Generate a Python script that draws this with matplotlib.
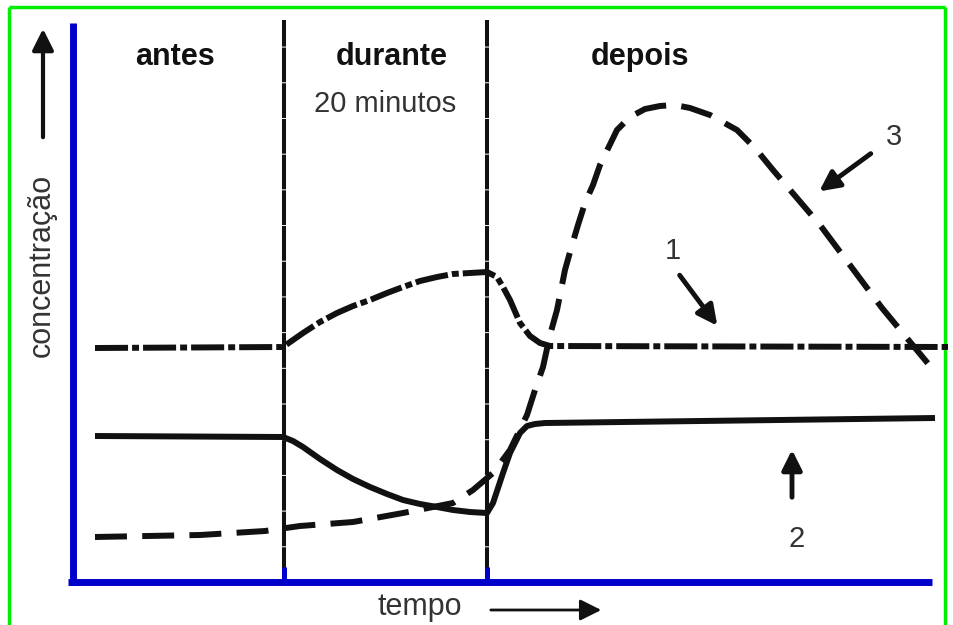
import matplotlib.pyplot as plt

plt.rcParams['font.family'] = ['Liberation Sans', 'DejaVu Sans']
plt.rcParams['lines.scale_dashes'] = False

# --- data (tempo, concentração), arbitrary units ---
t1 = [22, 210, 220, 230, 247, 264, 280, 297, 314, 330, 347, 364, 380, 397, 414,
      424, 430, 437, 447, 457, 467, 477, 875]
c1 = [234, 235, 242, 249, 260, 269, 276, 282, 289, 295, 301, 305, 308, 309, 310,
      305, 295, 282, 259, 246, 239, 236, 235]

t2 = [22, 210, 220, 230, 247, 264, 280, 297, 314, 330, 347, 364, 380, 397, 414,
      420, 430, 437, 447, 454, 462, 472, 862]
c2 = [146, 145, 141, 135, 123, 112, 103, 95, 88, 82, 78, 75, 72, 70, 69,
      79, 109, 129, 149, 156, 158, 159, 164]

t3 = [22, 127, 192, 227, 280, 330, 380, 400, 420, 437, 454, 462, 470, 477, 484,
      492, 499, 505, 512, 520, 527, 544, 557, 572, 587, 602, 617, 637, 664, 682,
      700, 747, 809, 862]
c3 = [45, 47, 51, 56, 60, 69, 79, 92, 109, 132, 167, 192, 215, 247, 272,
      312, 337, 357, 379, 397, 417, 452, 465, 473, 476, 477, 474, 467, 452, 434,
      412, 357, 274, 210]

fases = ['antes', 'durante', 'depois']
fase_x = [102, 319, 567]
limites = [211, 414]   # start / end of the 20 minute period
t_max = 859
c_max = 559

fig = plt.figure(figsize=(9.54, 6.25), dpi=100)
ax = fig.add_axes([0, 0, 1, 1])
ax.set_xlim(-73, 881)
ax.set_ylim(-43, 582)
ax.axis('off')

# green frame
green = '#00ee00'
ax.plot([-64, -64], [-43, 575], color=green, lw=2.5, solid_capstyle='butt')
ax.plot([-64, 872], [575, 575], color=green, lw=2.5, solid_capstyle='butt')
ax.plot([872, 872], [-43, 575], color=green, lw=2.5, solid_capstyle='butt')

# period dividers
for x in limites:
    ax.plot([x, x], [0, 562], color='#111111', lw=2.9, linestyle=(0, (25, 0.7)),
            dash_capstyle='butt', zorder=2)
    ax.plot([x, x], [0, 15], color='#0000cc', lw=3.6, solid_capstyle='butt', zorder=4)

# blue axes
blue = '#0000cc'
ax.plot([0, 0], [-3, c_max], color=blue, lw=5, solid_capstyle='butt', zorder=4)
ax.plot([-5, t_max], [0, 0], color=blue, lw=5, solid_capstyle='butt', zorder=4)

# curves
k = '#111111'
ax.plot(t1, c1, color=k, lw=4.3, linestyle=(0, (23.8, 2.9, 5, 2.9)),
        solid_joinstyle='round', zorder=3)
ax.plot(t2, c2, color=k, lw=4.3, linestyle='-', solid_capstyle='butt',
        solid_joinstyle='round', zorder=3)
ax.plot(t3, c3, color=k, lw=4.3, linestyle=(0, (23, 11)), zorder=3)

# phase labels
for name, x in zip(fases, fase_x):
    ax.text(x, 517, name, ha='center', va='baseline', fontsize=22,
            fontweight='bold', color='#111111')
ax.text(312, 470, '20 minutos', ha='center', va='baseline', fontsize=21, color='#333333')

# axis labels with arrows
ax.text(-31, 317, 'concentração', rotation=90, ha='center', va='center',
        fontsize=22, color='#333333')
ax.annotate('', xy=(-30, 556), xytext=(-30, 442),
            arrowprops=dict(arrowstyle='-|>', lw=3, color=k, mutation_scale=32))
ax.text(347, -33, 'tempo', ha='center', va='baseline', fontsize=22, color='#333333')
ax.annotate('', xy=(531, -28), xytext=(415, -28),
            arrowprops=dict(arrowstyle='-|>', lw=2, color=k, mutation_scale=32))

# curve numbers
arrow_kw = dict(arrowstyle='-|>', lw=3.5, color=k, mutation_scale=30)
ax.text(600, 331, '1', ha='center', va='center', fontsize=21, color='#333333')
ax.annotate('', xy=(646, 254), xytext=(605, 309), arrowprops=arrow_kw)
ax.text(821, 445, '3', ha='center', va='center', fontsize=21, color='#333333')
ax.annotate('', xy=(744, 389), xytext=(800, 430), arrowprops=arrow_kw)
ax.text(724, 43, '2', ha='center', va='center', fontsize=21, color='#333333')
ax.annotate('', xy=(719, 135), xytext=(719, 82), arrowprops=arrow_kw)

fig.savefig('out.png', dpi=100)
